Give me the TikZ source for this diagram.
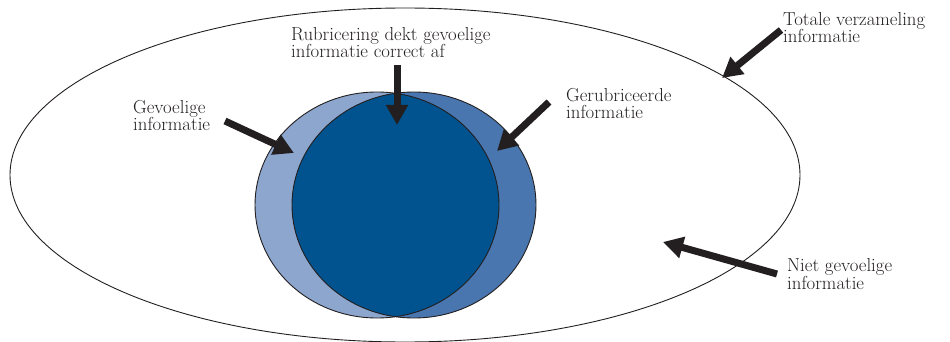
\documentclass[tikz,border=0pt]{standalone}
\usetikzlibrary{arrows.meta}
\definecolor{lightb}{HTML}{8CA6CD}
\definecolor{midb}{HTML}{4976AE}
\definecolor{darkb}{HTML}{00538F}
\definecolor{ink}{HTML}{231F20}
\begin{document}
\begin{tikzpicture}[x=1pt,y=-1pt,
  lbl/.style={anchor=base west,align=left,inner sep=0pt,font=\fontsize{18.8}{17.6}\selectfont,text=ink},
  blockarrow/.style={draw=ink,line width=7pt,-{Triangle[length=20pt,width=21pt]}},
  outline/.style={draw=ink,line width=0.9pt}]
\useasboundingbox (0,0) rectangle (950,342);
% big ellipse
\draw[outline] (405,175) ellipse [x radius=395,y radius=167];
% circles
\fill[lightb] (377,205) ellipse [x radius=122,y radius=113];
\fill[midb] (414,205) ellipse [x radius=122,y radius=113];
\begin{scope}
\clip (377,205) ellipse [x radius=122,y radius=113];
\fill[darkb] (414,205) ellipse [x radius=122,y radius=113];
\end{scope}
\draw[outline] (377,205) ellipse [x radius=122,y radius=113];
\draw[outline] (414,205) ellipse [x radius=122,y radius=113];
% labels (anchor = baseline of last line)
\node[lbl] (rub) at (291,58) {Rubricering dekt gevoelige\\informatie correct af};
\node[lbl] (gev) at (133,131) {Gevoelige\\informatie};
\node[lbl] (ger) at (566,119) {Gerubriceerde\\informatie};
\node[lbl] (tot) at (783,43) {Totale verzameling\\informatie};
\node[lbl] (niet) at (787,289) {Niet gevoelige\\informatie};
% arrow endpoints
\coordinate (a1s) at (397,65);
\coordinate (a1e) at (397,125);
\coordinate (a2s) at (225,121);
\coordinate (a2e) at (294,153);
\coordinate (a3s) at (549,102);
\coordinate (a3e) at (497,151);
\coordinate (a4s) at (781,30);
\coordinate (a4e) at (722,78);
\coordinate (a5s) at (777,274);
\coordinate (a5e) at (663,242);
\draw[blockarrow] (a1s) -- (a1e);
\draw[blockarrow] (a2s) -- (a2e);
\draw[blockarrow] (a3s) -- (a3e);
\draw[blockarrow] (a4s) -- (a4e);
\draw[blockarrow] (a5s) -- (a5e);
\end{tikzpicture}
\end{document}
